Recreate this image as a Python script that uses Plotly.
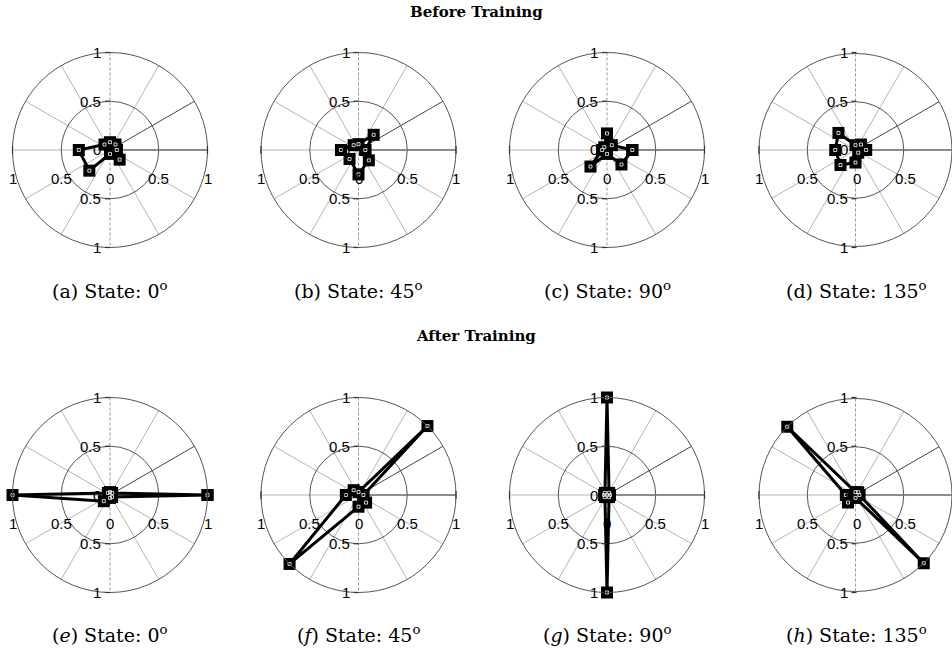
import plotly.graph_objects as go

# ---------------- data ----------------
theta = [0, 45, 90, 135, 180, 225, 270, 315]

before_0 = [0.07, 0.08, 0.08, 0.08, 0.32, 0.30, 0.04, 0.14]
before_45 = [0.07, 0.22, 0.06, 0.07, 0.18, 0.13, 0.25, 0.15]
before_90 = [0.26, 0.07, 0.17, 0.04, 0.05, 0.24, 0.04, 0.21]
before_135 = [0.11, 0.08, 0.05, 0.25, 0.21, 0.22, 0.13, 0.04]

after_0 = [1.0, 0.03, 0.03, 0.03, 1.0, 0.09, 0.03, 0.03]
after_45 = [0.05, 1.0, 0.03, 0.07, 0.13, 1.0, 0.12, 0.11]
after_90 = [0.03, 0.03, 1.0, 0.03, 0.03, 0.03, 1.0, 0.03]
after_135 = [0.04, 0.04, 0.03, 1.0, 0.10, 0.11, 0.03, 1.0]

rows = [[before_0, before_45, before_90, before_135],
        [after_0, after_45, after_90, after_135]]
row_titles = ["Before Training", "After Training"]
letters = [["a", "b", "c", "d"], ["e", "f", "g", "h"]]
states = ["0", "45", "90", "135"]

v_tick_vals = [1, 0.5, 0, -0.5, -1]
v_tick_text = ["1", "0.5", "0", "0.5", "1"]
h_tick_vals = [-1, -0.5, 0, 0.5, 1]
h_tick_text = ["1", "0.5", "0", "0.5", "1"]

# ---------------- layout geometry ----------------
W, H = 952, 654
CX = [110, 358.5, 607, 856.5]
CY = [150, 495]
R = 97.5
title_y = [12, 336]
caption_y = [290, 634]

fig = go.Figure()
layout = dict(width=W, height=H, margin=dict(l=0, r=0, t=0, b=0),
              paper_bgcolor="white", plot_bgcolor="white", showlegend=False)
annotations = []
shapes = []

TICK_FONT = dict(family="Liberation Sans, Arial, sans-serif", size=15, color="black")
SERIF = "DejaVu Serif, Liberation Serif, serif"


def px(x):
    return x / W


def py(y):
    return 1 - y / H


k = 0
for ri in range(2):
    annotations.append(dict(text="<b>%s</b>" % row_titles[ri], x=px(476), y=py(title_y[ri]),
                            xref="paper", yref="paper", showarrow=False,
                            xanchor="center", yanchor="middle",
                            font=dict(family=SERIF, size=15, color="black")))
    for ci in range(4):
        k += 1
        name = "polar" if k == 1 else "polar%d" % k
        sub = name
        cx, cy = CX[ci], CY[ri]
        x0, x1 = max(cx - R, 0), min(cx + R, W)
        layout[name] = dict(
            domain=dict(x=[px(x0), px(x1)], y=[py(cy + R), py(cy - R)]),
            bgcolor="white",
            radialaxis=dict(range=[0, 1], showticklabels=False, ticks="", showline=False,
                            tickvals=[0.5], showgrid=True, gridcolor="#555555", gridwidth=1),
            angularaxis=dict(rotation=0, direction="counterclockwise",
                             tickvals=[60, 120, 150, 180, 210, 240, 300, 330],
                             showticklabels=False, ticks="", showgrid=True,
                             gridcolor="#b5b5b5", gridwidth=1,
                             showline=True, linecolor="#555555", linewidth=1),
        )
        # darker reference spokes
        fig.add_trace(go.Scatterpolar(r=[0, 1], theta=[0, 0], mode="lines", subplot=sub,
                                      line=dict(color="#666666", width=1.3), hoverinfo="skip"))
        fig.add_trace(go.Scatterpolar(r=[0, 1], theta=[30, 30], mode="lines", subplot=sub,
                                      line=dict(color="#444444", width=1), hoverinfo="skip"))
        fig.add_trace(go.Scatterpolar(r=[1, 0, 1], theta=[90, 90, 270], mode="lines", subplot=sub,
                                      line=dict(color="#999999", width=1, dash="3px,2px"),
                                      hoverinfo="skip"))
        # data polygon
        vals = rows[ri][ci]
        rr = list(vals) + [vals[0]]
        tt = list(theta) + [theta[0]]
        fig.add_trace(go.Scatterpolar(r=rr, theta=tt, mode="lines+markers", subplot=sub,
                                      cliponaxis=False,
                                      line=dict(color="black", width=3),
                                      marker=dict(symbol="square", size=12, color="black")))
        fig.add_trace(go.Scatterpolar(r=vals, theta=theta, mode="markers", subplot=sub,
                                      cliponaxis=False, hoverinfo="skip",
                                      marker=dict(symbol="square-open", size=3, color="white",
                                                  line=dict(width=0.8, color="white"))))

        # vertical tick labels and tick marks
        for v, t in zip(v_tick_vals, v_tick_text):
            yy = cy - v * R
            annotations.append(dict(text=t, x=px(cx - 7), y=py(yy), xref="paper", yref="paper",
                                    showarrow=False, xanchor="right", yanchor="middle",
                                    font=TICK_FONT))
            if v != 0:
                shapes.append(dict(type="line", xref="paper", yref="paper",
                                   x0=px(cx - 5), x1=px(cx), y0=py(yy), y1=py(yy),
                                   line=dict(color="#333333", width=1.2)))
        # horizontal tick labels (the ones beyond the right edge are not visible in the original)
        for v, t in zip(h_tick_vals, h_tick_text):
            lx = cx + v * R
            if lx > W - 4:
                continue
            annotations.append(dict(text=t, x=px(lx), y=py(cy + 28), xref="paper",
                                    yref="paper", showarrow=False, xanchor="center",
                                    yanchor="middle", font=TICK_FONT))
        for v in (-1, 1):
            lx = cx + v * R
            if lx > W - 1:
                continue
            shapes.append(dict(type="line", xref="paper", yref="paper",
                               x0=px(lx), x1=px(lx), y0=py(cy - 4), y1=py(cy + 4),
                               line=dict(color="#333333", width=1.2)))
        # caption
        lt = letters[ri][ci]
        lt_txt = "(%s)" % lt if ri == 0 else "(<i>%s</i>)" % lt
        annotations.append(dict(text="%s State: %s<sup>o</sup>" % (lt_txt, states[ci]),
                                x=px(cx), y=py(caption_y[ri]), xref="paper", yref="paper",
                                showarrow=False, xanchor="center", yanchor="middle",
                                font=dict(family=SERIF, size=19, color="black")))

layout["annotations"] = annotations
layout["shapes"] = shapes
fig.update_layout(**layout)
fig.write_html("out.html", config={"displayModeBar": False},
               post_script="document.body.style.margin='0px';document.body.style.overflow='hidden';")
